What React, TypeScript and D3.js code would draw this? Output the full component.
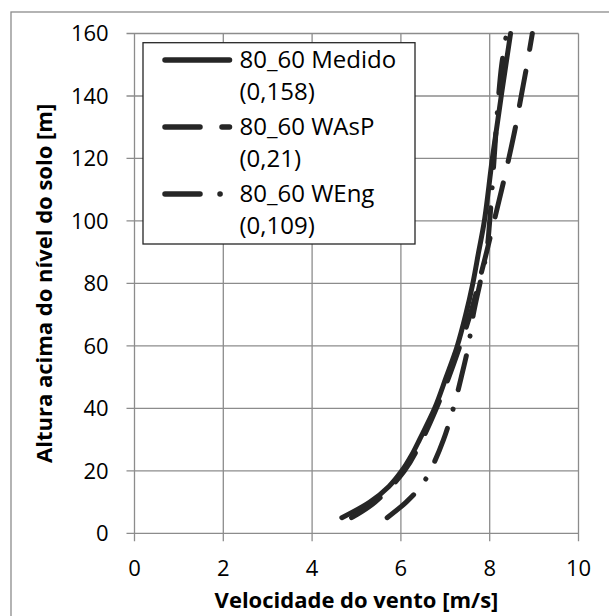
import React from "react";
import * as d3 from "d3";

const heightsMedido = [5, 10, 15, 20, 25, 30, 40, 50, 60, 70, 80, 90, 100, 120, 140, 160];
const speedMedido = [4.67, 5.3, 5.73, 6.02, 6.24, 6.42, 6.76, 7.02, 7.27, 7.46, 7.62, 7.75, 7.88, 8.06, 8.26, 8.47];

const heightsWasp = [5, 10, 20, 30, 40, 50, 60, 70, 80, 90, 100, 110, 120, 130, 140, 150, 160];
const speedWasp = [4.89, 5.42, 6.08, 6.48, 6.8, 7.08, 7.33, 7.56, 7.75, 7.93, 8.1, 8.27, 8.43, 8.58, 8.71, 8.84, 8.96];

const heightsWeng = [5, 10, 15, 20, 30, 40, 50, 60, 70, 80, 90, 100, 120, 140, 150, 160];
const speedWeng = [5.69, 6.12, 6.45, 6.66, 6.96, 7.18, 7.36, 7.52, 7.63, 7.78, 7.93, 8.0, 8.1, 8.2, 8.27, 8.38];

const xTicks = [0, 2, 4, 6, 8, 10];
const yTicks = [0, 20, 40, 60, 80, 100, 120, 140, 160];

const legendLabels = [
  ["80_60 Medido", "(0,158)"],
  ["80_60 WAsP", "(0,21)"],
  ["80_60 WEng", "(0,109)"],
];

const xTitle = "Velocidade do vento [m/s]";
const yTitle = "Altura acima do nível do solo [m]";

const W = 609;
const H = 616;
const left = 134.5;
const right = 578.5;
const top = 33.5;
const bottom = 533.3;

const INK = "#262626";
const GRID = "#8c8c8c";
const FONT = "'Open Sans', sans-serif";

const dashes = ["", "35 22", "35 20 0.1 20"];

export default function App() {
  const x = d3.scaleLinear().domain([0, 10]).range([left, right]);
  const y = d3.scaleLinear().domain([0, 160]).range([bottom, top]);

  const line = d3
    .line<[number, number]>()
    .x((d) => x(d[0]))
    .y((d) => y(d[1]))
    .curve(d3.curveCatmullRom.alpha(0.5));

  const series = [
    { speeds: speedMedido, heights: heightsMedido },
    { speeds: speedWasp, heights: heightsWasp },
    { speeds: speedWeng, heights: heightsWeng },
  ];

  const legX0 = 143;
  const legY0 = 42.7;
  const legW = 272;
  const legH = 201.3;
  const rowBase = [68, 135, 202];

  return (
    <svg
      width={W}
      height={H}
      style={{ position: "absolute", left: 0, top: 0, background: "#fff" }}
      fontFamily={FONT}
    >
      <rect x={0} y={0} width={W} height={H} fill="#fff" />
      <rect x={11} y={12} width={700} height={700} fill="none" stroke={GRID} strokeWidth={1.3} />

      {/* gridlines */}
      {xTicks.map((t) => (
        <line key={"gx" + t} x1={x(t)} x2={x(t)} y1={top} y2={bottom + 8} stroke={GRID} strokeWidth={1.3} />
      ))}
      {yTicks.map((t) => (
        <line key={"gy" + t} x1={left - 8} x2={right} y1={y(t)} y2={y(t)} stroke={GRID} strokeWidth={1.3} />
      ))}

      {/* tick labels */}
      {xTicks.map((t) => (
        <text key={"tx" + t} x={x(t)} y={576} textAnchor="middle" fontSize={22} fill="#000">
          {t}
        </text>
      ))}
      {yTicks.map((t) => (
        <text key={"ty" + t} x={108.7} y={y(t) + 7.8} textAnchor="end" fontSize={22} fill="#000">
          {t}
        </text>
      ))}

      {/* axis titles */}
      <text x={(left + right) / 2} y={608} textAnchor="middle" fontSize={22} fontWeight="bold" fill="#000">
        {xTitle}
      </text>
      <text
        transform={`translate(52, ${(top + bottom) / 2}) rotate(-90)`}
        textAnchor="middle"
        fontSize={22}
        fontWeight="bold"
        fill="#000"
      >
        {yTitle}
      </text>

      {/* series */}
      {series.map((s, i) => (
        <path
          key={"s" + i}
          d={line(s.speeds.map((v, k) => [v, s.heights[k]] as [number, number])) || ""}
          fill="none"
          stroke={INK}
          strokeWidth={5}
          strokeLinecap="round"
          strokeLinejoin="round"
          strokeDasharray={dashes[i] || undefined}
        />
      ))}

      {/* legend */}
      <rect x={legX0} y={legY0} width={legW} height={legH} fill="#fff" stroke={INK} strokeWidth={1.3} />
      {legendLabels.map((lab, i) => (
        <g key={"lg" + i}>
          <line
            x1={165}
            x2={229.5}
            y1={rowBase[i] - 8}
            y2={rowBase[i] - 8}
            stroke={INK}
            strokeWidth={5.5}
            strokeLinecap="round"
            strokeDasharray={dashes[i] || undefined}
          />
          <text x={239.5} y={rowBase[i]} fontSize={24} fill="#000">
            {lab[0]}
          </text>
          <text x={239.5} y={rowBase[i] + 32} fontSize={24} fill="#000">
            {lab[1]}
          </text>
        </g>
      ))}
    </svg>
  );
}
